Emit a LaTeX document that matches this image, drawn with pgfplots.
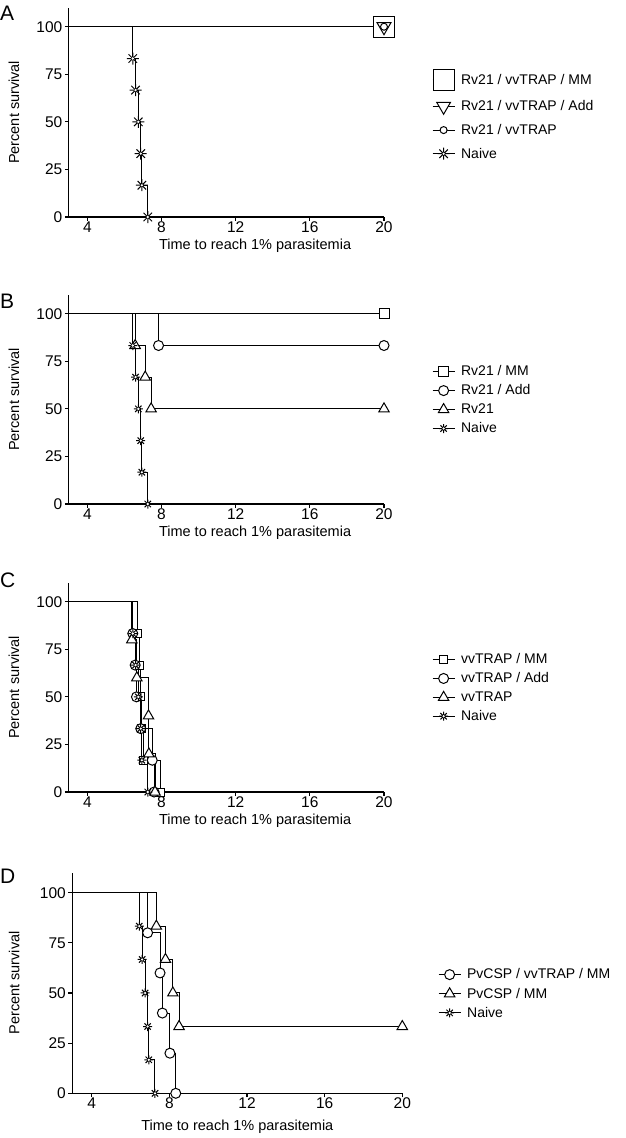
\documentclass[border=0pt]{standalone}
\usepackage{fontspec}
\setmainfont{Liberation Sans}
\usepackage{pgfplots}
\pgfplotsset{compat=1.18}

% eight-armed star with a dot in the middle (GraphPad style)
\pgfdeclareplotmark{star8}{%
  \pgfpathmoveto{\pgfqpoint{-\pgfplotmarksize}{0pt}}%
  \pgfpathlineto{\pgfqpoint{\pgfplotmarksize}{0pt}}%
  \pgfpathmoveto{\pgfqpoint{0pt}{-\pgfplotmarksize}}%
  \pgfpathlineto{\pgfqpoint{0pt}{\pgfplotmarksize}}%
  \pgfpathmoveto{\pgfqpoint{-0.707\pgfplotmarksize}{-0.707\pgfplotmarksize}}%
  \pgfpathlineto{\pgfqpoint{0.707\pgfplotmarksize}{0.707\pgfplotmarksize}}%
  \pgfpathmoveto{\pgfqpoint{-0.707\pgfplotmarksize}{0.707\pgfplotmarksize}}%
  \pgfpathlineto{\pgfqpoint{0.707\pgfplotmarksize}{-0.707\pgfplotmarksize}}%
  \pgfusepathqstroke
  \pgfpathcircle{\pgfpointorigin}{1.3pt}%
  \pgfusepathqfill
}

\pgfplotsset{
  km/.style={
    scale only axis, clip=false,
    axis lines=left, axis line style={-, line width=1.2pt},
    xmin=3, xmax=20, ymin=0, ymax=110,
    xtick={4,8,12,16,20}, ytick={0,25,50,75,100},
    tick align=outside, major tick length=4pt,
    tick style={line width=1.2pt, black},
    tick label style={font=\fontsize{15.5}{15.5}\selectfont},
    xticklabel style={yshift=3pt},
    yticklabel style={xshift=1pt},
    /pgf/number format/assume math mode=true,
    label style={font=\fontsize{14.5}{14.5}\selectfont},
    ylabel={Percent survival},
    xlabel={Time to reach 1\% parasitemia},
    every axis plot/.append style={const plot, line width=1pt, black,
      mark phase=2, mark options={solid, fill=white, line width=1pt}},
    legend cell align=left,
    legend style={draw=none, fill=none, anchor=west, inner sep=0pt,
      font=\fontsize{14}{14}\selectfont, column sep=4pt},
    legend image code/.code={\draw[mark repeat=2,mark phase=2]
      plot coordinates {(0pt,0pt) (11pt,0pt) (22pt,0pt)};},
  },
  ylab/.style={ylabel style={at={(axis description cs:#1,0.5)}, anchor=center}},
  xlab/.style 2 args={xlabel style={at={(axis description cs:#1,#2)}, anchor=center}},
}

\begin{document}
\begin{tikzpicture}
\useasboundingbox (0pt,0pt) rectangle (625pt,-1138pt);

% ---------------- A
\begin{axis}[km, at={(68.8pt,-217pt)}, anchor=south west,
  width=315.2pt, height=209.3pt, ylab=-0.174, xlab={0.591}{-0.139},
  legend style={at={(axis description cs:1.152,0.485)}, row sep=8pt}]
\addplot[mark=square*, mark size=10.5pt] coordinates {(3,100) (20,100)};
\addlegendentry{Rv21 / vvTRAP / MM}
\addplot[mark=triangle*, mark size=8pt, mark options={solid, fill=white, line width=1pt, rotate=180}] coordinates {(3,100) (20,100)};
\addlegendentry{Rv21 / vvTRAP / Add}
\addplot[mark=*, mark size=3.5pt] coordinates {(3,100) (20,100)};
\addlegendentry{Rv21 / vvTRAP}
\addplot[mark=star8, mark size=6pt] coordinates {(3,100) (6.45,83.3) (6.6,66.7) (6.75,50) (6.88,33.3) (6.94,16.7) (7.26,0)};
\addlegendentry{Naive}
\end{axis}

% ---------------- B
\begin{axis}[km, at={(68.8pt,-504pt)}, anchor=south west,
  width=315.2pt, height=209.3pt, ylab=-0.174, xlab={0.591}{-0.139},
  legend style={at={(axis description cs:1.152,0.497)}, row sep=3.5pt}]
\addplot[mark=square*, mark size=5pt] coordinates {(3,100) (20,100)};
\addlegendentry{Rv21 / MM}
\addplot[mark=*, mark size=5pt] coordinates {(3,100) (7.84,83.3) (20,83.3)};
\addlegendentry{Rv21 / Add}
\addplot[mark=triangle*, mark size=6pt] coordinates {(3,100) (6.58,83.3) (7.12,66.7) (7.44,50) (20,50)};
\addlegendentry{Rv21}
\addplot[mark=star8, mark size=4.5pt] coordinates {(3,100) (6.45,83.3) (6.6,66.7) (6.75,50) (6.88,33.3) (6.94,16.7) (7.26,0)};
\addlegendentry{Naive}
\end{axis}

% ---------------- C
\begin{axis}[km, at={(68.8pt,-792pt)}, anchor=south west,
  width=315.2pt, height=209.3pt, ylab=-0.174, xlab={0.591}{-0.139},
  legend style={at={(axis description cs:1.152,0.498)}, row sep=3.5pt}]
\addplot[mark=square*, mark size=4pt] coordinates {(3,100) (6.7,83.3) (6.8,66.7) (6.85,50) (6.9,33.3) (7.05,16.7) (7.95,0)};
\addlegendentry{vvTRAP / MM}
\addplot[mark=*, mark size=5pt] coordinates {(3,100) (6.45,83.3) (6.58,66.7) (6.65,50) (6.88,33.3) (7.5,16.7) (7.6,0)};
\addlegendentry{vvTRAP / Add}
\addplot[mark=triangle*, mark size=6pt] coordinates {(3,100) (6.4,80) (6.67,60) (7.3,40) (7.32,20) (7.65,0)};
\addlegendentry{vvTRAP}
\addplot[mark=star8, mark size=4.5pt] coordinates {(3,100) (6.45,83.3) (6.6,66.7) (6.75,50) (6.88,33.3) (6.94,16.7) (7.26,0)};
\addlegendentry{Naive}
\end{axis}

% ---------------- D
\begin{axis}[km, at={(72.3pt,-1093.3pt)}, anchor=south west,
  width=330pt, height=220.7pt, ylab=-0.176, xlab={0.5}{-0.151},
  legend style={at={(axis description cs:1.108,0.451)}, row sep=3.5pt}]
\addplot[mark=*, mark size=5pt] coordinates {(3,100) (6.88,80) (7.52,60) (7.64,40) (8.03,20) (8.33,0)};
\addlegendentry{PvCSP / vvTRAP / MM}
\addplot[mark=triangle*, mark size=6pt] coordinates {(3,100) (7.33,83.3) (7.8,66.7) (8.18,50) (8.5,33.3) (20,33.3)};
\addlegendentry{PvCSP / MM}
\addplot[mark=star8, mark size=4.5pt] coordinates {(3,100) (6.45,83.3) (6.6,66.7) (6.75,50) (6.88,33.3) (6.94,16.7) (7.26,0)};
\addlegendentry{Naive}
\end{axis}

\node[anchor=base west, inner sep=0pt, font=\fontsize{21}{21}\selectfont] at (0pt,-20pt) {A};
\node[anchor=base west, inner sep=0pt, font=\fontsize{21}{21}\selectfont] at (0pt,-308pt) {B};
\node[anchor=base west, inner sep=0pt, font=\fontsize{21}{21}\selectfont] at (0pt,-587pt) {C};
\node[anchor=base west, inner sep=0pt, font=\fontsize{21}{21}\selectfont] at (0pt,-883pt) {D};
\end{tikzpicture}
\end{document}
